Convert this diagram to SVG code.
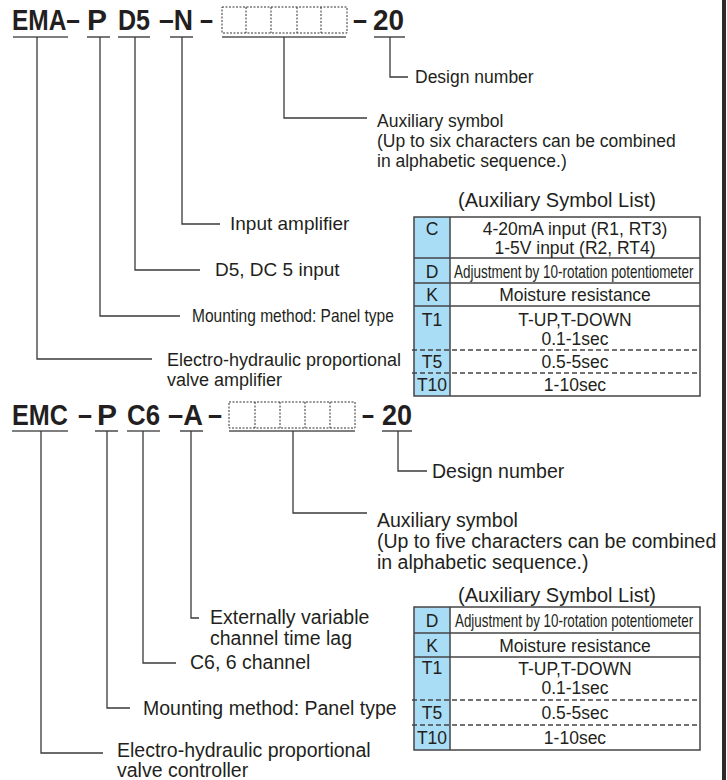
<svg xmlns="http://www.w3.org/2000/svg" width="727" height="780" viewBox="0 0 727 780">
<style>
  text { font-family: "Liberation Sans", Arial, sans-serif; fill: #231f20; }
  .code { font-size: 30px; font-weight: bold; }
  .ul { stroke: #555; stroke-width: 1.6; fill: none; }
  .ln { stroke: #3a3a3a; stroke-width: 1.3; fill: none; }
  .box { stroke: #333; stroke-width: 1; stroke-dasharray: 2 1.5; fill: none; }
  .tb { stroke: #444; stroke-width: 1.5; fill: none; }
  .dash { stroke: #444; stroke-width: 1.3; stroke-dasharray: 5 3; fill: none; }
  .blue { fill: #a9dcf5; }
  .t17 { font-size: 17.5px; }
  .t19 { font-size: 19.5px; }
  .mid { text-anchor: middle; }
</style>
<rect width="727" height="780" fill="#ffffff"/>
<line x1="724" y1="0" x2="724" y2="780" stroke="#2b2b2b" stroke-width="4"/>

<!-- ===== Top model code ===== -->
<g id="code-top">
  <text class="code" transform="translate(12,30) scale(0.816,1)">EMA–</text>
  <text class="code" transform="translate(87,30)">P</text>
  <text class="code" transform="translate(118,30) scale(0.835,1)">D5</text>
  <text class="code" transform="translate(159,30) scale(0.887,1)">–N</text>
  <text class="code" transform="translate(200,30) scale(0.78,1)">–</text>
  <g>
    <rect class="box" x="222" y="7" width="125" height="26"/>
    <line class="box" x1="246" y1="7" x2="246" y2="33"/>
    <line class="box" x1="271" y1="7" x2="271" y2="33"/>
    <line class="box" x1="297" y1="7" x2="297" y2="33"/>
    <line class="box" x1="321" y1="7" x2="321" y2="33"/>
  </g>
  <text class="code" transform="translate(353,30) scale(0.84,1)">–</text>
  <text class="code" transform="translate(373,30) scale(0.93,1)">20</text>
</g>

<g id="connectors-top">
  <line class="ul" x1="13" y1="37" x2="68" y2="37"/>
  <line class="ul" x1="87" y1="37" x2="110" y2="37"/>
  <line class="ul" x1="118" y1="37" x2="150" y2="37"/>
  <line class="ul" x1="170" y1="37" x2="193" y2="37"/>
  <line class="ul" x1="222" y1="37" x2="346" y2="37"/>
  <line class="ul" x1="374" y1="37" x2="405" y2="37"/>
  <polyline class="ln" points="37,37 37,359 152,359"/>
  <polyline class="ln" points="100,37 100,316 180,316"/>
  <polyline class="ln" points="135,37 135,270 200,270"/>
  <polyline class="ln" points="182,37 182,224 220,224"/>
  <polyline class="ln" points="284,37 284,118 367,118"/>
  <polyline class="ln" points="390,37 390,77 408,77"/>
</g>

<g id="label-top-design">
  <text class="t17" x="415" y="83">Design number</text>
</g>
<g id="label-top-aux">
  <text class="t17" x="377" y="127">Auxiliary symbol</text>
  <text class="t17" x="377" y="147">(Up to six characters can be combined</text>
  <text class="t17" x="377" y="167">in alphabetic sequence.)</text>
</g>
<g id="label-top-input">
  <text x="230" y="230" font-size="19">Input amplifier</text>
</g>
<g id="label-top-d5">
  <text x="215" y="276" font-size="19">D5, DC 5 input</text>
</g>
<g id="label-top-mount">
  <text transform="translate(192,322) scale(0.863,1)" font-size="18">Mounting method: Panel type</text>
</g>
<g id="label-top-ehpva">
  <text x="167" y="366" font-size="18">Electro-hydraulic proportional</text>
  <text x="167" y="386" font-size="18">valve amplifier</text>
</g>

<!-- ===== Top table ===== -->
<g id="table-top">
  <text class="mid" x="557" y="207" font-size="20">(Auxiliary Symbol List)</text>
  <rect class="blue" x="414" y="217" width="36" height="179"/>
  <rect class="tb" x="414" y="217" width="286" height="179"/>
  <line class="tb" x1="450" y1="217" x2="450" y2="396"/>
  <line class="tb" x1="414" y1="258" x2="700" y2="258"/>
  <line class="tb" x1="414" y1="283" x2="700" y2="283"/>
  <line class="tb" x1="414" y1="306" x2="700" y2="306"/>
  <line class="dash" x1="412" y1="350" x2="700" y2="350"/>
  <line class="dash" x1="412" y1="373" x2="700" y2="373"/>
  <text class="t17 mid" x="432" y="235">C</text>
  <text class="t17 mid" x="575" y="235">4-20mA input (R1, RT3)</text>
  <text class="t17 mid" x="575" y="254">1-5V input (R2, RT4)</text>
  <text class="t17 mid" x="432" y="278">D</text>
  <text class="t17" transform="translate(454,278) scale(0.77,1)">Adjustment by 10-rotation potentiometer</text>
  <text class="t17 mid" x="432" y="301">K</text>
  <text class="t17 mid" x="575" y="301">Moisture resistance</text>
  <text class="t17 mid" x="432" y="326">T1</text>
  <text class="t17 mid" x="575" y="326">T-UP,T-DOWN</text>
  <text class="t17 mid" x="575" y="345">0.1-1sec</text>
  <text class="t17 mid" x="432" y="368">T5</text>
  <text class="t17 mid" x="575" y="368">0.5-5sec</text>
  <text class="t17 mid" x="432" y="391">T10</text>
  <text class="t17 mid" x="575" y="391">1-10sec</text>
</g>

<!-- ===== Bottom model code ===== -->
<g id="code-bottom">
  <text class="code" transform="translate(12,425) scale(0.84,1)">EMC</text>
  <text class="code" transform="translate(78,425) scale(0.84,1)">–</text>
  <text class="code" transform="translate(97,425)">P</text>
  <text class="code" transform="translate(127,425) scale(0.86,1)">C6</text>
  <text class="code" transform="translate(168,425) scale(0.91,1)">–A</text>
  <text class="code" transform="translate(208,425) scale(0.84,1)">–</text>
  <g>
    <rect class="box" x="229" y="402" width="126" height="26"/>
    <line class="box" x1="255" y1="402" x2="255" y2="428"/>
    <line class="box" x1="280" y1="402" x2="280" y2="428"/>
    <line class="box" x1="305" y1="402" x2="305" y2="428"/>
    <line class="box" x1="330" y1="402" x2="330" y2="428"/>
  </g>
  <text class="code" transform="translate(362,425) scale(0.72,1)">–</text>
  <text class="code" transform="translate(382,425) scale(0.9,1)">20</text>
</g>

<g id="connectors-bottom">
  <line class="ul" x1="12" y1="431" x2="68" y2="431"/>
  <line class="ul" x1="95" y1="431" x2="118" y2="431"/>
  <line class="ul" x1="127" y1="431" x2="160" y2="431"/>
  <line class="ul" x1="180" y1="431" x2="203" y2="431"/>
  <line class="ul" x1="229" y1="431" x2="355" y2="431"/>
  <line class="ul" x1="382" y1="431" x2="412" y2="431"/>
  <polyline class="ln" points="41,431 41,753 103,753"/>
  <polyline class="ln" points="107,431 107,708 130,708"/>
  <polyline class="ln" points="143,431 143,663 176,663"/>
  <polyline class="ln" points="191,431 191,618 199,618"/>
  <polyline class="ln" points="293,431 293,513 367,513"/>
  <polyline class="ln" points="398,431 398,471 427,471"/>
</g>

<g id="label-bot-design">
  <text class="t19" x="432" y="478">Design number</text>
</g>
<g id="label-bot-aux">
  <text class="t19" x="377" y="527">Auxiliary symbol</text>
  <text class="t19" x="377" y="548">(Up to five characters can be combined</text>
  <text class="t19" x="377" y="569">in alphabetic sequence.)</text>
</g>
<g id="label-bot-ext">
  <text class="t19" x="210" y="624">Externally variable</text>
  <text class="t19" x="210" y="645">channel time lag</text>
</g>
<g id="label-bot-c6">
  <text class="t19" x="190" y="669">C6, 6 channel</text>
</g>
<g id="label-bot-mount">
  <text class="t19" x="143" y="715">Mounting method: Panel type</text>
</g>
<g id="label-bot-ehpvc">
  <text class="t19" x="117" y="757">Electro-hydraulic proportional</text>
  <text class="t19" x="117" y="777">valve controller</text>
</g>

<!-- ===== Bottom table ===== -->
<g id="table-bottom">
  <text class="mid" x="557" y="602" font-size="20">(Auxiliary Symbol List)</text>
  <rect class="blue" x="414" y="607" width="36" height="143"/>
  <rect class="tb" x="414" y="607" width="286" height="143"/>
  <line class="tb" x1="450" y1="607" x2="450" y2="750"/>
  <line class="tb" x1="414" y1="633" x2="700" y2="633"/>
  <line class="tb" x1="414" y1="657" x2="700" y2="657"/>
  <line class="dash" x1="412" y1="700" x2="700" y2="700"/>
  <line class="dash" x1="412" y1="725" x2="700" y2="725"/>
  <text class="t17 mid" x="432" y="627">D</text>
  <text class="t17" transform="translate(455,627) scale(0.765,1)">Adjustment by 10-rotation potentiometer</text>
  <text class="t17 mid" x="432" y="652">K</text>
  <text class="t17 mid" x="575" y="652">Moisture resistance</text>
  <text class="t17 mid" x="432" y="674">T1</text>
  <text class="t17 mid" x="575" y="675">T-UP,T-DOWN</text>
  <text class="t17 mid" x="575" y="694">0.1-1sec</text>
  <text class="t17 mid" x="432" y="719">T5</text>
  <text class="t17 mid" x="575" y="719">0.5-5sec</text>
  <text class="t17 mid" x="432" y="744">T10</text>
  <text class="t17 mid" x="575" y="744">1-10sec</text>
</g>
</svg>
